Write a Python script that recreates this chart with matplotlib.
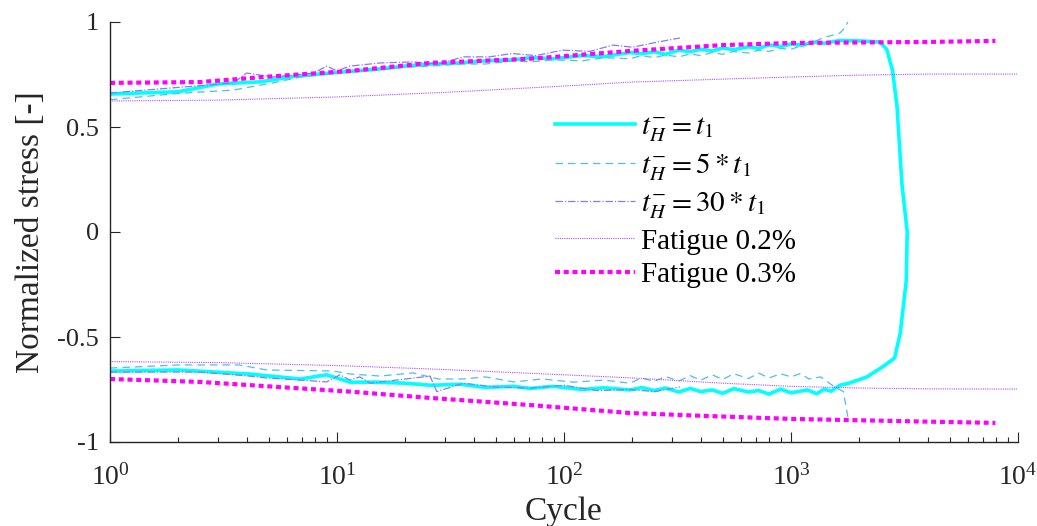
import numpy as np
import matplotlib
matplotlib.use("Agg")
import matplotlib.pyplot as plt
from matplotlib.ticker import FixedLocator, FixedFormatter, LogLocator, NullFormatter

plt.rcParams['font.family'] = ['Liberation Serif', 'DejaVu Serif']
plt.rcParams['mathtext.fontset'] = 'stix'
plt.rcParams['axes.unicode_minus'] = False

# t_H = t1 : max stress branch, failure drop, then min stress branch back to cycle 1
cyc_t1 = [1, 2, 3, 4.6, 6.6, 9, 11.4, 15, 20, 26, 35, 45, 60, 71, 90, 120, 150, 195,
          220, 250, 280, 320, 360, 400, 450, 500, 560, 650, 720, 800, 900, 1000, 1120,
          1250, 1400, 1640, 2000, 2460, 2640, 2800, 2930, 3080, 3250, 3220, 3030, 2860,
          2550, 2160, 1800, 1640, 1500, 1400, 1300, 1180, 1000, 900, 800, 720, 650, 560,
          500, 450, 400, 360, 320, 280, 250, 220, 195, 150, 120, 90, 71, 60, 45, 35, 26,
          20, 15, 11.4, 9, 6.9, 4.1, 2, 1]
s_t1 = [0.657, 0.668, 0.705, 0.715, 0.742, 0.755, 0.765, 0.775, 0.79, 0.80, 0.805, 0.815,
        0.82, 0.83, 0.825, 0.84, 0.835, 0.855, 0.849, 0.858, 0.846, 0.866, 0.858, 0.87,
        0.862, 0.876, 0.868, 0.882, 0.874, 0.891, 0.883, 0.895, 0.889, 0.904, 0.899, 0.912,
        0.91, 0.905, 0.87, 0.77, 0.60, 0.23, 0.0, -0.23, -0.48, -0.60, -0.64, -0.69,
        -0.72, -0.73, -0.758, -0.748, -0.77, -0.752, -0.766, -0.748, -0.772, -0.755,
        -0.762, -0.746, -0.768, -0.752, -0.76, -0.745, -0.762, -0.743, -0.755, -0.741,
        -0.752, -0.742, -0.75, -0.735, -0.745, -0.735, -0.74, -0.725, -0.73, -0.72,
        -0.715, -0.715, -0.68, -0.70, -0.676, -0.657, -0.662]

# t_H = 5*t1
cyc_5_max = [1, 2, 3.5, 5.2, 6.9, 11.4, 15, 20, 26, 35, 45, 60, 71, 90, 120, 150, 195,
             220, 250, 280, 320, 360, 400, 450, 500, 560, 650, 720, 800, 900, 1000, 1100,
             1200, 1380, 1640, 1740, 1780]
s_5_max = [0.63, 0.66, 0.676, 0.71, 0.738, 0.765, 0.77, 0.785, 0.79, 0.80, 0.80, 0.815,
           0.81, 0.82, 0.815, 0.83, 0.825, 0.84, 0.83, 0.843, 0.834, 0.848, 0.84, 0.855,
           0.846, 0.86, 0.852, 0.866, 0.86, 0.874, 0.87, 0.885, 0.895, 0.924, 0.947,
           0.976, 1.0]
cyc_5_min = [1, 2, 3.7, 4.9, 9.6, 11.4, 15.5, 21.6, 28, 36, 45, 60, 80, 110, 150, 195,
             220, 250, 280, 320, 360, 400, 450, 500, 560, 650, 720, 800, 900, 1000, 1100,
             1200, 1350, 1520, 1700, 1780]
s_5_min = [-0.648, -0.633, -0.633, -0.657, -0.662, -0.676, -0.686, -0.671, -0.70, -0.70,
           -0.69, -0.714, -0.70, -0.715, -0.705, -0.72, -0.695, -0.712, -0.688, -0.71,
           -0.684, -0.706, -0.68, -0.702, -0.675, -0.698, -0.672, -0.695, -0.675, -0.69,
           -0.674, -0.70, -0.69, -0.73, -0.76, -0.88]

# t_H = 30*t1
cyc_30_max = [1, 3.5, 4.0, 5.2, 7.9, 9, 10, 11.4, 15.5, 21.6, 28, 36, 47, 59, 75, 99,
              130, 164, 200, 260, 324]
s_30_max = [0.662, 0.71, 0.757, 0.738, 0.757, 0.79, 0.767, 0.79, 0.805, 0.81, 0.80,
            0.834, 0.834, 0.85, 0.84, 0.866, 0.86, 0.89, 0.88, 0.905, 0.924]
cyc_30_min = [1, 2.5, 4.1, 4.9, 6.9, 9, 10.3, 11.4, 12.6, 14, 18.3, 25.7, 27.5, 36, 50,
              71, 100, 140, 195, 250, 324]
s_30_min = [-0.667, -0.667, -0.686, -0.695, -0.705, -0.714, -0.68, -0.705, -0.69, -0.72,
            -0.705, -0.686, -0.76, -0.72, -0.738, -0.743, -0.73, -0.755, -0.75, -0.76,
            -0.738]

# fatigue model, 0.2 % strain
cyc_f2 = [1, 3, 10, 30, 100, 200, 500, 1000, 2000, 4000, 9900]
s_f2_max = [0.624, 0.628, 0.643, 0.665, 0.695, 0.714, 0.728, 0.738, 0.747, 0.752, 0.752]
s_f2_min = [-0.617, -0.622, -0.636, -0.655, -0.68, -0.695, -0.72, -0.735, -0.743, -0.747,
            -0.748]

# fatigue model, 0.3 % strain
cyc_f3_max = [1, 2.5, 5, 11.4, 25.7, 71, 195, 500, 1000, 4000, 7950]
s_f3_max = [0.71, 0.714, 0.74, 0.767, 0.805, 0.825, 0.862, 0.89, 0.90, 0.905, 0.91]
cyc_f3_min = [1, 2.5, 11.4, 25.7, 71, 195, 400, 1000, 4000, 7950]
s_f3_min = [-0.70, -0.714, -0.76, -0.79, -0.824, -0.862, -0.875, -0.89, -0.903, -0.909]

yticks = [-1, -0.5, 0, 0.5, 1]
ytick_labels = ["-1", "-0.5", "0", "0.5", "1"]

fig = plt.figure(figsize=(10.37, 5.26), dpi=100)
ax = fig.add_axes([110/1037, 84/526, 908/1037, 420/526])

c_t1 = "#00FFFF"
c_5 = "#4DBEEE"
c_30 = "#7E7EF5"
c_f2 = "#B04CFF"
c_f3 = "#FF00FF"

ax.plot(cyc_t1, s_t1, color=c_t1, lw=2.6, label=r"$t_H^{-} = t_1$")
ax.plot(cyc_5_max, s_5_max, color=c_5, lw=0.9, ls=(0, (6, 4)), label=r"$t_H^{-} = 5*t_1$")
ax.plot(cyc_5_min, s_5_min, color=c_5, lw=0.9, ls=(0, (6, 4)))
ax.plot(cyc_30_max, s_30_max, color=c_30, lw=0.9, ls=(0, (6, 1.5, 1, 1.5)),
        label=r"$t_H^{-} = 30*t_1$")
ax.plot(cyc_30_min, s_30_min, color=c_30, lw=0.9, ls=(0, (6, 1.5, 1, 1.5)))
ax.plot(cyc_f2, s_f2_max, color=c_f2, lw=0.8, ls=(0, (1, 1)), label="Fatigue 0.2%")
ax.plot(cyc_f2, s_f2_min, color=c_f2, lw=0.8, ls=(0, (1, 1)))
ax.plot(cyc_f3_max, s_f3_max, color=c_f3, lw=3, ls=(0, (1.2, 0.9)), dash_capstyle="butt",
        label="Fatigue 0.3%")
ax.plot(cyc_f3_min, s_f3_min, color=c_f3, lw=3, ls=(0, (1.2, 0.9)), dash_capstyle="butt")

ax.set_xscale("log")
ax.set_xlim(1, 1e4)
ax.set_ylim(-1, 1)
ax.xaxis.set_major_locator(LogLocator(base=10, numticks=10))
ax.xaxis.set_minor_locator(LogLocator(base=10, subs=np.arange(2, 10), numticks=50))
ax.xaxis.set_minor_formatter(NullFormatter())
ax.yaxis.set_major_locator(FixedLocator(yticks))
ax.yaxis.set_major_formatter(FixedFormatter(ytick_labels))

for side in ["top", "right"]:
    ax.spines[side].set_visible(False)
for side in ["left", "bottom"]:
    ax.spines[side].set_color("#262626")
    ax.spines[side].set_linewidth(1.0)
ax.tick_params(which="major", direction="in", length=7, width=0.8, color="#262626",
               labelsize=19, labelcolor="#262626")
ax.tick_params(which="minor", direction="in", length=3.6, width=0.8, color="#262626")
ax.tick_params(axis="x", which="major", pad=16, labelsize=20)
ax.tick_params(axis="y", pad=8)

ax.set_xlabel("Cycle", fontsize=24, color="#262626", labelpad=4)
ax.set_ylabel("Normalized stress [-]", fontsize=24, color="#262626", labelpad=8)

ax.legend(loc="upper left", bbox_to_anchor=(0.49, 0.782), frameon=False, fontsize=21,
          handlelength=2.75, handletextpad=0.2, labelspacing=0.25, borderpad=0,
          borderaxespad=0)

fig.savefig("out.png", dpi=100)
